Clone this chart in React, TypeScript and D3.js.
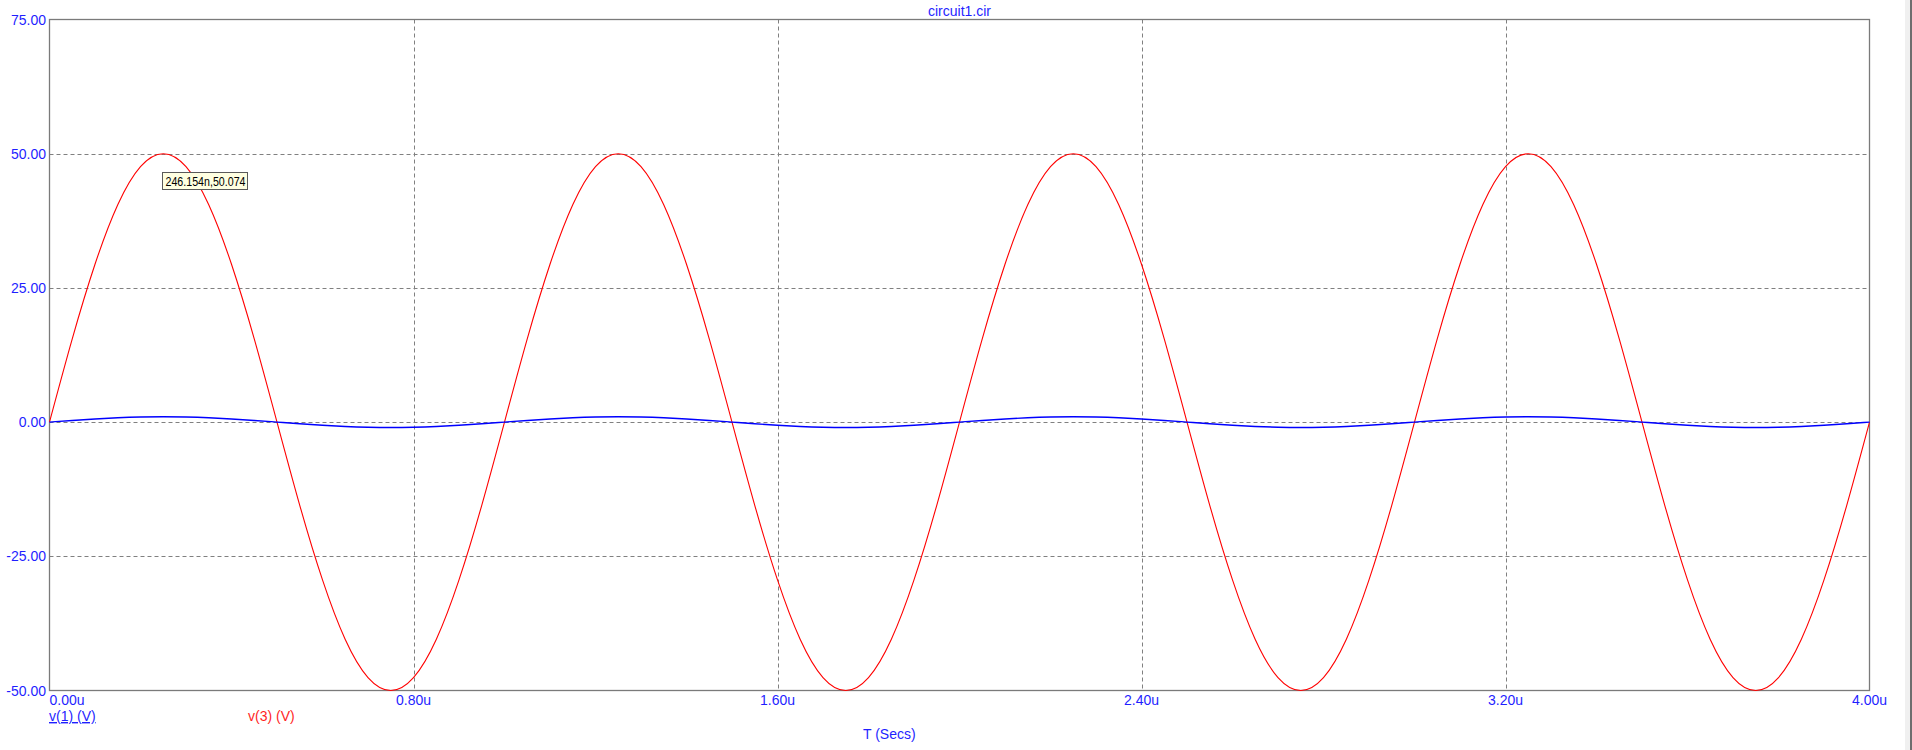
import { useEffect, useRef } from 'react';
import * as d3 from 'd3';

// time in microseconds, sampled every 50ns
const times = [
  0, 0.05, 0.1, 0.15, 0.2, 0.25, 0.3, 0.35, 0.4, 0.45,
  0.5, 0.55, 0.6, 0.65, 0.7, 0.75, 0.8, 0.85, 0.9, 0.95,
  1.0, 1.05, 1.1, 1.15, 1.2, 1.25, 1.3, 1.35, 1.4, 1.45,
  1.5, 1.55, 1.6, 1.65, 1.7, 1.75, 1.8, 1.85, 1.9, 1.95,
  2.0, 2.05, 2.1, 2.15, 2.2, 2.25, 2.3, 2.35, 2.4, 2.45,
  2.5, 2.55, 2.6, 2.65, 2.7, 2.75, 2.8, 2.85, 2.9, 2.95,
  3.0, 3.05, 3.1, 3.15, 3.2, 3.25, 3.3, 3.35, 3.4, 3.45,
  3.5, 3.55, 3.6, 3.65, 3.7, 3.75, 3.8, 3.85, 3.9, 3.95,
  4.0,
];

// v(1) (V) - input, about 1V peak
const v1 = [
  0, 0.31, 0.59, 0.81, 0.95, 1.0, 0.95, 0.81, 0.59, 0.31,
  0, -0.31, -0.59, -0.81, -0.95, -1.0, -0.95, -0.81, -0.59, -0.31,
  0, 0.31, 0.59, 0.81, 0.95, 1.0, 0.95, 0.81, 0.59, 0.31,
  0, -0.31, -0.59, -0.81, -0.95, -1.0, -0.95, -0.81, -0.59, -0.31,
  0, 0.31, 0.59, 0.81, 0.95, 1.0, 0.95, 0.81, 0.59, 0.31,
  0, -0.31, -0.59, -0.81, -0.95, -1.0, -0.95, -0.81, -0.59, -0.31,
  0, 0.31, 0.59, 0.81, 0.95, 1.0, 0.95, 0.81, 0.59, 0.31,
  0, -0.31, -0.59, -0.81, -0.95, -1.0, -0.95, -0.81, -0.59, -0.31,
  0,
];

// v(3) (V) - output, about 50V peak
const v3 = [
  0, 15.5, 29.4, 40.5, 47.6, 50.0, 47.6, 40.5, 29.4, 15.5,
  0, -15.5, -29.4, -40.5, -47.6, -50.0, -47.6, -40.5, -29.4, -15.5,
  0, 15.5, 29.4, 40.5, 47.6, 50.0, 47.6, 40.5, 29.4, 15.5,
  0, -15.5, -29.4, -40.5, -47.6, -50.0, -47.6, -40.5, -29.4, -15.5,
  0, 15.5, 29.4, 40.5, 47.6, 50.0, 47.6, 40.5, 29.4, 15.5,
  0, -15.5, -29.4, -40.5, -47.6, -50.0, -47.6, -40.5, -29.4, -15.5,
  0, 15.5, 29.4, 40.5, 47.6, 50.0, 47.6, 40.5, 29.4, 15.5,
  0, -15.5, -29.4, -40.5, -47.6, -50.0, -47.6, -40.5, -29.4, -15.5,
  0,
];

const xTicks = [0, 0.8, 1.6, 2.4, 3.2, 4.0];
const xTickLabels = ['0.00u', '0.80u', '1.60u', '2.40u', '3.20u', '4.00u'];
const yTicks = [-50, -25, 0, 25, 50, 75];
const yTickLabels = ['-50.00', '-25.00', '0.00', '25.00', '50.00', '75.00'];

const cursorPoint = { t: 0.246154, v: 50.074, label: '246.154n,50.074' };

const W = 1912;
const H = 750;
const FONT = '"Liberation Sans", Arial, sans-serif';
const TXT_BLUE = '#1f1fff';

export default function App() {
  const svgRef = useRef<SVGSVGElement>(null);

  useEffect(() => {
    if (!svgRef.current) return;
    const svg = d3.select(svgRef.current);
    svg.selectAll('*').remove();

    const left = 49.5;
    const right = 1869.5;
    const top = 19.5;
    const bottom = 690.5;

    const x = d3.scaleLinear().domain([0, 4]).range([left, right]);
    const y = d3.scaleLinear().domain([-50, 75]).range([bottom, top]);

    svg.append('rect').attr('width', W).attr('height', H).attr('fill', '#ffffff');

    // window edge on the right
    svg.append('rect').attr('x', 1905).attr('y', 0).attr('width', 5).attr('height', H).attr('fill', '#f0f0f0');
    svg.append('rect').attr('x', 1910).attr('y', 0).attr('width', 2).attr('height', H).attr('fill', '#6e6e6e');

    const grid = svg.append('g').attr('stroke', '#808080').attr('stroke-width', 1).attr('stroke-dasharray', '4,3');
    yTicks.slice(1, -1).forEach((v) => {
      const yy = Math.round(y(v)) + 0.5;
      grid.append('line').attr('x1', left).attr('x2', right).attr('y1', yy).attr('y2', yy);
    });
    xTicks.slice(1, -1).forEach((t) => {
      const xx = Math.round(x(t)) + 0.5;
      grid.append('line').attr('x1', xx).attr('x2', xx).attr('y1', top).attr('y2', bottom);
    });

    svg
      .append('rect')
      .attr('x', left)
      .attr('y', top)
      .attr('width', right - left)
      .attr('height', bottom - top)
      .attr('fill', 'none')
      .attr('stroke', '#7a7a7a')
      .attr('stroke-width', 1.3);

    const line = d3
      .line<number>()
      .x((_, i) => x(times[i]))
      .y((d) => y(d))
      .curve(d3.curveNatural);

    svg
      .append('path')
      .attr('d', line(v3))
      .attr('fill', 'none')
      .attr('stroke', '#ff0000')
      .attr('stroke-width', 1.1);

    svg
      .append('path')
      .attr('d', line(v1))
      .attr('fill', 'none')
      .attr('stroke', '#0000ff')
      .attr('stroke-width', 1.4);

    // y tick labels
    svg
      .append('g')
      .selectAll('text')
      .data(yTicks)
      .join('text')
      .attr('x', 46)
      .attr('y', (d) => y(d) + 5)
      .attr('text-anchor', 'end')
      .attr('font-family', FONT)
      .attr('font-size', 14)
      .attr('fill', TXT_BLUE)
      .text((_, i) => yTickLabels[i]);

    // x tick labels
    svg
      .append('g')
      .selectAll('text')
      .data(xTicks)
      .join('text')
      .attr('x', (d) => x(d))
      .attr('y', 705)
      .attr('text-anchor', (_, i) => (i === 0 ? 'start' : 'middle'))
      .attr('font-family', FONT)
      .attr('font-size', 14)
      .attr('fill', TXT_BLUE)
      .text((_, i) => xTickLabels[i]);

    svg
      .append('text')
      .attr('x', (left + right) / 2)
      .attr('y', 16)
      .attr('text-anchor', 'middle')
      .attr('font-family', FONT)
      .attr('font-size', 14)
      .attr('fill', TXT_BLUE)
      .text('circuit1.cir');

    svg
      .append('text')
      .attr('x', 863)
      .attr('y', 739)
      .attr('font-family', FONT)
      .attr('font-size', 14)
      .attr('fill', TXT_BLUE)
      .text('T (Secs)');

    svg
      .append('text')
      .attr('x', 49)
      .attr('y', 721)
      .attr('font-family', FONT)
      .attr('font-size', 14)
      .attr('fill', TXT_BLUE)
      .attr('text-decoration', 'underline')
      .text('v(1) (V)');

    svg
      .append('text')
      .attr('x', 248)
      .attr('y', 721)
      .attr('font-family', FONT)
      .attr('font-size', 14)
      .attr('fill', '#ff1f1f')
      .text('v(3) (V)');

    // cursor readout box
    const bx = Math.round(x(cursorPoint.t)) + 0.5;
    const by = Math.round(y(cursorPoint.v)) + 19.5;
    svg
      .append('rect')
      .attr('x', bx)
      .attr('y', by)
      .attr('width', 85)
      .attr('height', 17)
      .attr('fill', '#ffffe1')
      .attr('stroke', '#5a5a5a')
      .attr('stroke-width', 1);
    svg
      .append('text')
      .attr('x', bx + 3)
      .attr('y', by + 13)
      .attr('font-family', FONT)
      .attr('font-size', 13)
      .attr('textLength', 80)
      .attr('lengthAdjust', 'spacingAndGlyphs')
      .attr('fill', '#000000')
      .text(cursorPoint.label);
  }, []);

  return (
    <div style={{ position: 'fixed', left: 0, top: 0, width: W, height: H, background: '#fff' }}>
      <svg ref={svgRef} width={W} height={H} style={{ display: 'block' }} />
    </div>
  );
}
